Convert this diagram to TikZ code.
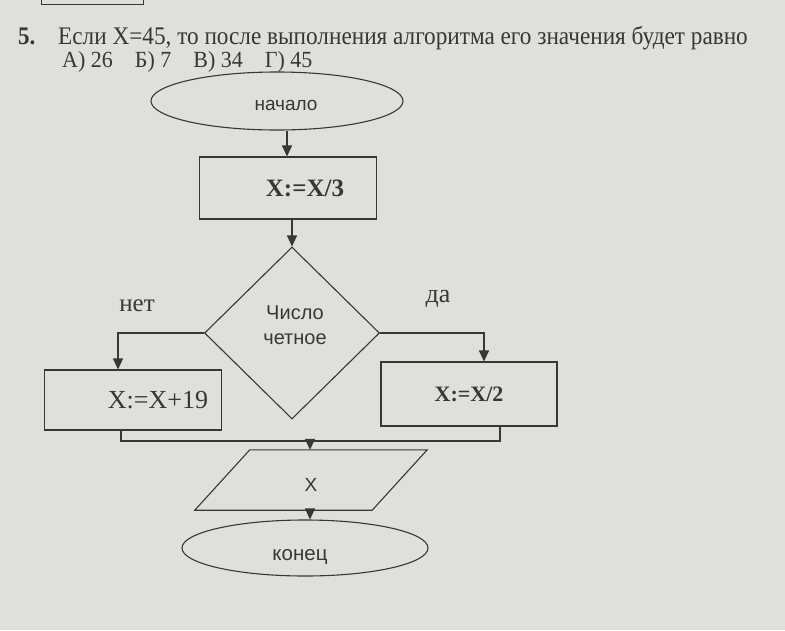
\documentclass[tikz,border=0pt]{standalone}
\usepackage{fontspec}
\setmainfont{Liberation Serif}
\newfontfamily\sansf{Liberation Sans}
\usetikzlibrary{shapes.geometric,arrows.meta,calc}
\definecolor{paper}{RGB}{223,223,221}
\definecolor{ink}{RGB}{55,55,55}
\tikzset{
  shp/.style={draw=ink, line width=1.1pt},
  conn/.style={draw=ink, line width=1.1pt},
  arr/.style={conn, -{Triangle[width=10pt,length=11pt]}},
  lbl/.style={text=ink, inner sep=0pt},
}
\begin{document}
\begin{tikzpicture}[x=1pt,y=-1pt]
\fill[paper] (0,0) rectangle (785,630);
\useasboundingbox (0,0) rectangle (785,630);
% partial box of previous question
\draw[ink, line width=1pt] (41,0) -- (41,4) -- (143,4) -- (143,0);
% title
\node[lbl, anchor=base west, font=\fontsize{23}{26}\selectfont\bfseries] (num) at (18,44) {\scalebox{1}[1.1]{5.}};
\node[lbl, anchor=base west, font=\fontsize{23}{26}\selectfont] (q) at (58,44) {\scalebox{1.01}[1.1]{Если X=45, то после выполнения алгоритма его значения будет равно}};
\node[lbl, anchor=base west, font=\fontsize{22}{24}\selectfont] (ans) at (62,67) {\scalebox{1}[1.05]{А) 26\hspace{22pt}Б) 7\hspace{22pt}В) 34\hspace{22pt}Г) 45}};
% shapes
\node[shp, ellipse, minimum width=252pt, minimum height=58pt] (start) at (277,101) {};
\node[lbl, font=\sansf\fontsize{19}{20}\selectfont] (startt) at (286,105) {начало};
\node[shp, rectangle, minimum width=177pt, minimum height=62pt, font=\fontsize{25}{28}\selectfont\bfseries, text=ink] (div3) at (288,188) {\hspace{34pt}\raisebox{-5pt}{X:=X/3}};
\node[shp, diamond, minimum width=175pt, minimum height=172pt, inner sep=0pt] (cond) at (292,333) {};
\node[lbl, font=\sansf\fontsize{20}{25}\selectfont, align=center] (condt) at (295,325) {Число\\ четное};
\node[shp, rectangle, minimum width=177pt, minimum height=60pt, font=\fontsize{26}{28}\selectfont, text=ink] (plus) at (133,400) {\hspace{50pt}\raisebox{-3pt}{X:=X+19}};
\node[shp, rectangle, minimum width=176pt, minimum height=64pt, font=\fontsize{22}{24}\selectfont\bfseries, text=ink] (div2) at (469,394) {\raisebox{-3pt}{X:=X/2}\hspace{32pt}};
\node[lbl, font=\fontsize{25}{28}\selectfont] (no) at (137,306) {нет};
\node[lbl, font=\fontsize{26}{28}\selectfont] (yes) at (438,299) {да};
\node[rectangle, minimum width=177pt, minimum height=60pt, inner sep=0pt] (out) at (311,480) {};
\draw[shp] ($(out.north west)+(27.5,0)$) -- ($(out.north east)+(27.5,0)$) -- ($(out.south east)+(-27.5,0)$) -- ($(out.south west)+(-27.5,0)$) -- cycle;
\node[lbl, font=\sansf\fontsize{19}{20}\selectfont] (outt) at (311,485) {X};
\node[shp, ellipse, minimum width=246pt, minimum height=56pt] (end) at (305,548) {};
\node[lbl, font=\sansf\fontsize{20.5}{22}\selectfont] (endt) at (300,557) {конец};
% connectors
\coordinate (m) at (310,441);
\draw[arr] (start.south -| 287,0) -- (div3.north -| 287,0);
\draw[arr] (div3.south -| cond.north) -- (cond.north);
\draw[arr] (cond.west) -| (plus.north -| 118,0);
\draw[arr] (cond.east) -| (div2.north -| 484,0);
\draw[conn] (plus.south -| 121,0) |- (m) -| (div2.south -| 500,0);
\draw[arr] (m) -- (out.north -| m);
\draw[arr] (out.south -| m) -- (end.north -| m);
\end{tikzpicture}
\end{document}
